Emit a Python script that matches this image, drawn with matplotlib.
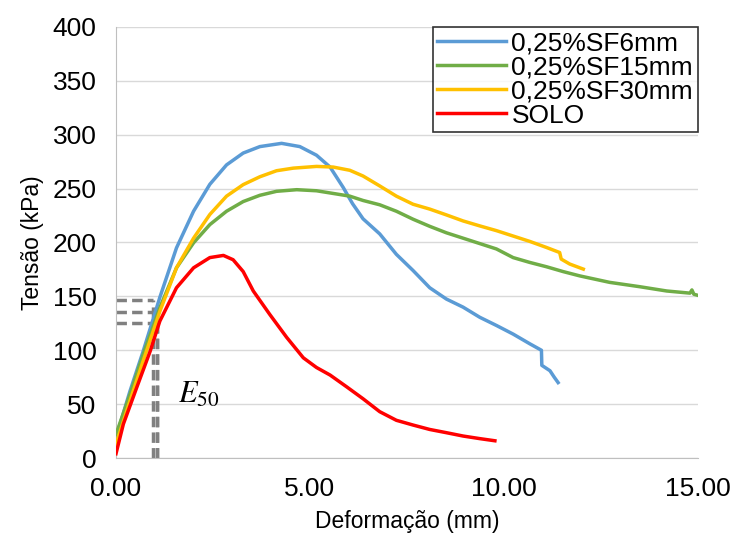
import numpy as np
import matplotlib
matplotlib.use('Agg')
import matplotlib.pyplot as plt

# curve points (deformation mm, stress kPa)
sf6_x = [0, 0.36, 0.70, 1.13, 1.56, 2.0, 2.42, 2.85, 3.28, 3.71, 4.27, 4.74, 5.17, 5.52,
         5.86, 6.1, 6.37, 6.8, 7.23, 7.66, 8.09, 8.52, 8.95, 9.38, 9.81, 10.24, 10.67,
         10.97, 10.98, 11.19, 11.3, 11.4]
sf6_y = [19, 62, 99, 149, 195, 229, 254, 272, 283, 289, 292, 289, 281, 270,
         251, 236, 222, 208, 189, 174, 158, 147.5, 140, 130.6, 123, 115, 106,
         100, 86, 81, 75, 70]

sf15_x = [0, 0.36, 0.70, 1.13, 1.56, 2.0, 2.42, 2.85, 3.28, 3.71, 4.14, 4.66, 5.17, 5.69,
          6.03, 6.37, 6.8, 7.23, 7.66, 8.09, 8.52, 8.95, 9.38, 9.81, 10.24, 10.67, 11.1,
          11.53, 11.96, 12.73, 13.5, 14.2, 14.8, 14.85, 14.9, 15.0]
sf15_y = [22, 59, 96, 139.5, 176.5, 199.7, 216.6, 229, 238, 243.8, 247.5, 249, 248, 245,
          243, 239, 235, 229, 221.6, 215, 209, 204, 199, 194, 186, 181.5, 177.5,
          173, 169, 163, 159, 155, 153, 156, 152, 151]

sf30_x = [0, 0.36, 0.70, 1.13, 1.56, 2.0, 2.42, 2.85, 3.28, 3.71, 4.14, 4.57, 5.17, 5.6,
          6.03, 6.37, 6.8, 7.23, 7.66, 8.09, 8.52, 8.95, 9.38, 9.81, 10.24, 10.67, 11.1,
          11.44, 11.48, 11.7, 12.05]
sf30_y = [13, 53, 90, 136, 176.5, 204, 226, 243, 253.7, 261, 266.6, 269, 270.6, 270,
          267, 261.7, 252.5, 243, 235.5, 231, 225.6, 220, 215.4, 211, 206, 201, 195.4,
          190.7, 184.6, 180, 175.3]

solo_x = [0, 0.19, 0.53, 0.88, 1.13, 1.56, 2.0, 2.42, 2.77, 3.02, 3.28, 3.54, 3.97, 4.4,
          4.83, 5.17, 5.52, 5.95, 6.37, 6.8, 7.23, 7.66, 8.09, 8.52, 8.95, 9.38, 9.77]
solo_y = [4, 31.5, 65, 99, 127, 158, 176.5, 186, 188, 184, 173, 155, 133, 112,
          93, 84, 77, 66, 55, 43, 35, 30.6, 26.5, 23.5, 20.4, 18, 16]

# E50 construction lines
e50_x = [0.96, 1.06, 1.06]
e50_y = [146.6, 135.8, 125.6]

plt.rcParams['font.family'] = ['Liberation Sans', 'DejaVu Sans']
plt.rcParams['mathtext.fontset'] = 'stix'

fig = plt.figure(figsize=(7.36, 5.45), dpi=100)
ax = fig.add_axes([0.1576, 0.1596, 0.7904, 0.7909])

for xv, yv in zip(e50_x, e50_y):
    ax.plot([0, xv], [yv, yv], color='#808080', lw=2.5, ls=(0, (3, 1.5)), zorder=1)
    ax.plot([xv, xv], [0, yv], color='#808080', lw=2.5, ls=(0, (3, 1.5)), zorder=1)

ax.plot(sf6_x, sf6_y, color='#5b9bd5', lw=2.5, label='0,25%SF6mm', zorder=3)
ax.plot(sf15_x, sf15_y, color='#70ad47', lw=2.5, label='0,25%SF15mm', zorder=3)
ax.plot(sf30_x, sf30_y, color='#ffc000', lw=2.5, label='0,25%SF30mm', zorder=3)
ax.plot(solo_x, solo_y, color='#ff0000', lw=2.5, label='SOLO', zorder=3)

ax.text(1.6, 51, r'$E_{50}$', fontsize=22, va='baseline')

ax.set_xlim(0, 15)
ax.set_ylim(0, 400)
ax.set_xticks([0, 5, 10, 15])
ax.set_xticklabels(['0.00', '5.00', '10.00', '15.00'])
ax.set_yticks(np.arange(0, 401, 50))
ax.tick_params(labelsize=19, length=0, pad=14)
ax.grid(axis='y', color='#d9d9d9', lw=1)
ax.set_axisbelow(True)
for s in ['top', 'right']:
    ax.spines[s].set_visible(False)
ax.spines['left'].set_color('#bfbfbf')
ax.spines['bottom'].set_color('#bfbfbf')

ax.set_xlabel('Deformação (mm)', fontsize=16.5, labelpad=6)
ax.set_ylabel('Tensão (kPa)', fontsize=16.5, labelpad=6)

leg = ax.legend(loc='upper right', fontsize=19, frameon=True, fancybox=False,
                edgecolor='black', borderaxespad=0, handlelength=2.6,
                labelspacing=0.0, borderpad=0.18, handletextpad=0.2)
leg.get_frame().set_linewidth(1.2)

fig.savefig('out.png', dpi=100)
